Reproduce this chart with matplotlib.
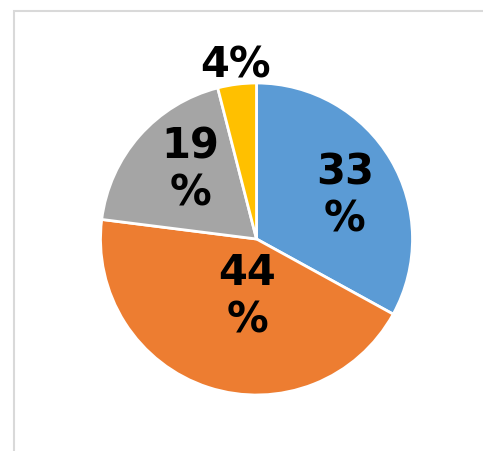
import matplotlib
matplotlib.use("Agg")
import matplotlib.pyplot as plt
from matplotlib.patches import Rectangle
import numpy as np

values = [33, 44, 19, 4]
labels = ["33\n%", "44\n%", "19\n%", "4%"]
colors = ["#5B9BD5", "#ED7D31", "#A5A5A5", "#FFC000"]
label_dist = [0.633, 0.37, 0.617, 1.124]
label_ang_offset = [-4.2, 9.0, -5.3, -0.3]

W, H = 483, 452
fig = plt.figure(figsize=(W / 100, H / 100), dpi=100)
fig.patch.set_facecolor("white")

# border frame (extends past right/bottom edges)
fig.patches.append(Rectangle((14 / W, -0.05), 1.1, (H - 12) / H + 0.05,
                             transform=fig.transFigure, fill=False,
                             edgecolor="#d9d9d9", linewidth=1.5))

cx, cy, R = 256.5, 240, 156
ax = fig.add_axes([(cx - R) / W, (H - cy - R) / H, 2 * R / W, 2 * R / H])
wedges, _ = ax.pie(values, colors=colors, startangle=90, counterclock=False,
                   radius=1.0, wedgeprops=dict(edgecolor="white", linewidth=2))
ax.set_xlim(-1, 1)
ax.set_ylim(-1, 1)
ax.set_aspect("auto")
ax.axis("off")

for w, lab, d, off in zip(wedges, labels, label_dist, label_ang_offset):
    ang = np.deg2rad((w.theta1 + w.theta2) / 2 + off)
    x, y = d * np.cos(ang), d * np.sin(ang)
    ax.text(x, y, lab, ha="center", va="center", fontsize=30,
            fontweight="heavy", family="DejaVu Sans", color="black",
            linespacing=1.17, clip_on=False)

fig.savefig("out.png", dpi=100)
